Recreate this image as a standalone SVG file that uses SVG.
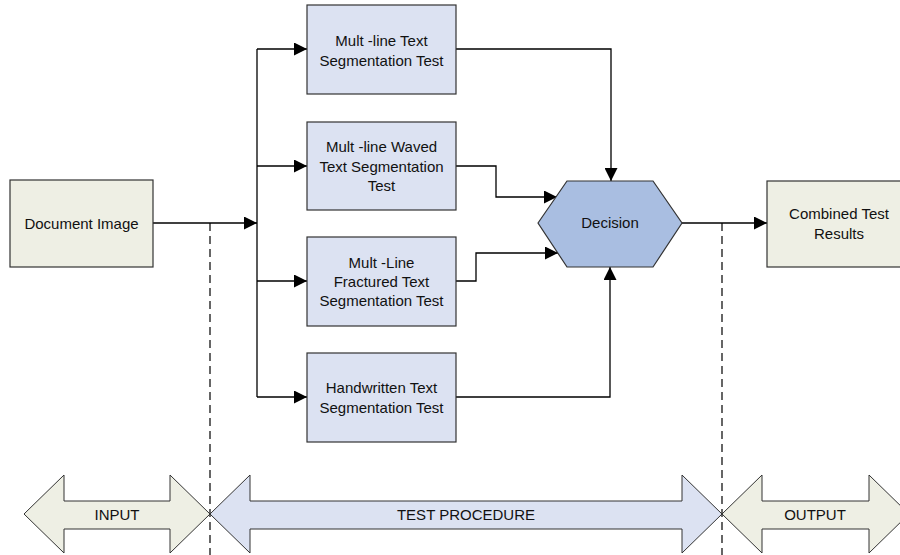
<svg xmlns="http://www.w3.org/2000/svg" width="900" height="555" viewBox="0 0 900 555">
<style>
text{font-family:"Liberation Sans",Arial,sans-serif;font-size:15px;fill:#111;text-anchor:middle;dominant-baseline:central}
.beige{fill:#EEEFE4;stroke:#333;stroke-width:1.2}
.blue{fill:#DCE2F2;stroke:#333;stroke-width:1.2}
.hex{fill:#A9BEE1;stroke:#333;stroke-width:1.2}
.c{fill:none;stroke:#000;stroke-width:1.3}
.d{fill:none;stroke:#000;stroke-width:1.2;stroke-dasharray:8,5}
.band{stroke:#333;stroke-width:1}
</style>
<defs>
<marker id="ah" markerUnits="userSpaceOnUse" markerWidth="13" markerHeight="13" viewBox="0 0 13 13" refX="13" refY="6.5" orient="auto">
<path d="M0,0 L13,6.5 L0,13 Z" fill="#000"/>
</marker>
</defs>
<g id="connectors">
<path class="d" d="M210,223 V555"/>
<path class="d" d="M722,223 V555"/>
<path class="c" d="M153,223 H257" marker-end="url(#ah)"/>
<path class="c" d="M257,49 V397"/>
<path class="c" d="M257,49 H307" marker-end="url(#ah)"/>
<path class="c" d="M257,166 H307" marker-end="url(#ah)"/>
<path class="c" d="M257,281 H307" marker-end="url(#ah)"/>
<path class="c" d="M257,397 H307" marker-end="url(#ah)"/>
<path class="c" d="M456,49 H611 V181" marker-end="url(#ah)"/>
<path class="c" d="M456,166 H496 V197 H557" marker-end="url(#ah)"/>
<path class="c" d="M456,281 H476 V253 H558" marker-end="url(#ah)"/>
<path class="c" d="M456,397 H610 V267" marker-end="url(#ah)"/>
<path class="c" d="M682,223 H767" marker-end="url(#ah)"/>
</g>
<g id="doc-image">
<rect class="beige" x="10" y="180" width="143" height="87"/>
<text x="81.5" y="223">Document Image</text>
</g>
<g id="test1">
<rect class="blue" x="307" y="5" width="149" height="89"/>
<text x="381.5" y="40">Mult -line Text</text>
<text x="381.5" y="60">Segmentation Test</text>
</g>
<g id="test2">
<rect class="blue" x="307" y="122" width="149" height="88"/>
<text x="381.5" y="146">Mult -line Waved</text>
<text x="381.5" y="166">Text Segmentation</text>
<text x="381.5" y="185">Test</text>
</g>
<g id="test3">
<rect class="blue" x="307" y="237" width="149" height="89"/>
<text x="381.5" y="262">Mult -Line</text>
<text x="381.5" y="281">Fractured Text</text>
<text x="381.5" y="300">Segmentation Test</text>
</g>
<g id="test4">
<rect class="blue" x="307" y="353" width="149" height="89"/>
<text x="381.5" y="387">Handwritten Text</text>
<text x="381.5" y="407">Segmentation Test</text>
</g>
<g id="decision">
<polygon class="hex" points="538,223 567,181 653,181 682,223 653,267 567,267"/>
<text x="610" y="222">Decision</text>
</g>
<g id="combined">
<rect class="beige" x="767" y="181" width="143" height="86"/>
<text x="839" y="213">Combined Test</text>
<text x="839" y="233">Results</text>
</g>
<g id="input-band">
<polygon class="beige band" points="24,514 64,475 64,501 170,501 170,475 210,514 170,553 170,529 64,529 64,553"/>
<text x="117" y="514">INPUT</text>
</g>
<g id="test-band">
<polygon class="blue band" points="210,514 250,475 250,501 682,501 682,475 722,514 682,553 682,529 250,529 250,553"/>
<text x="466" y="514">TEST PROCEDURE</text>
</g>
<g id="output-band">
<polygon class="beige band" points="722,514 762,475 762,501 869,501 869,475 909,514 869,553 869,529 762,529 762,553"/>
<text x="815" y="514">OUTPUT</text>
</g>
</svg>
